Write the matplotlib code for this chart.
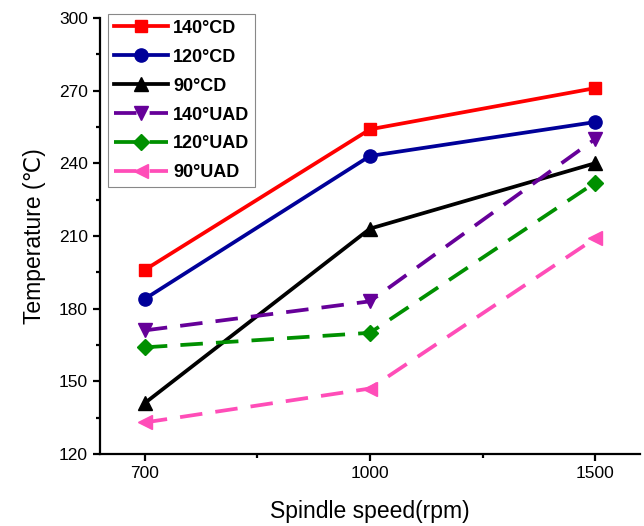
import matplotlib
matplotlib.use("Agg")
import matplotlib.pyplot as plt
from matplotlib.ticker import MultipleLocator, FixedLocator

plt.rcParams['font.family'] = ['Liberation Sans', 'DejaVu Sans']

speeds = ["700", "1000", "1500"]
cd140 = [196, 254, 271]
cd120 = [184, 243, 257]
cd90 = [141, 213, 240]
uad140 = [171, 183, 250]
uad120 = [164, 170, 232]
uad90 = [133, 147, 209]

series = [
    ("140°CD", cd140, "#FF0000", "s", "-"),
    ("120°CD", cd120, "#000099", "o", "-"),
    ("90°CD", cd90, "#000000", "^", "-"),
    ("140°UAD", uad140, "#660099", "v", "--"),
    ("120°UAD", uad120, "#009000", "D", "--"),
    ("90°UAD", uad90, "#FF4DB8", "<", "--"),
]

fig = plt.figure(figsize=(6.44, 5.26), dpi=100)
ax = fig.add_axes([0.155, 0.137, 0.839, 0.829])

x = list(range(len(speeds)))
for label, vals, color, marker, ls in series:
    ms = 8 if marker in ("s", "D") else 9.5
    line, = ax.plot(x, vals, color=color, marker=marker, linestyle=ls, lw=2.7,
                    markersize=ms, label=label)
    if ls == "--":
        line.set_dashes((6, 3.5))

ax.set_xlim(-0.2, 2.2)
ax.set_ylim(120, 300)
ax.set_xticks(x)
ax.set_xticklabels(speeds)
ax.xaxis.set_minor_locator(FixedLocator([0.5, 1.5]))
ax.yaxis.set_major_locator(MultipleLocator(30))
ax.yaxis.set_minor_locator(MultipleLocator(15))

for s in ("top", "right"):
    ax.spines[s].set_visible(False)
for s in ("left", "bottom"):
    ax.spines[s].set_linewidth(1.6)

ax.tick_params(axis="both", which="major", direction="out", length=5, width=1.6,
               labelsize=12.5)
ax.tick_params(axis="both", which="minor", direction="out", length=3, width=1.6)

ax.set_xlabel("Spindle speed(rpm)", fontsize=16.5, labelpad=14)
ax.set_ylabel("Temperature (℃)", fontsize=16.5, labelpad=9)

leg = ax.legend(loc="upper left", bbox_to_anchor=(0.016, 1.008), borderaxespad=0,
                prop={"weight": "bold", "size": 13}, handlelength=3.0,
                fancybox=False, framealpha=1, edgecolor="#888888",
                labelspacing=0.66, handletextpad=0.28, borderpad=0.3)
leg.get_frame().set_linewidth(0.8)

fig.savefig("out.png", dpi=100)
